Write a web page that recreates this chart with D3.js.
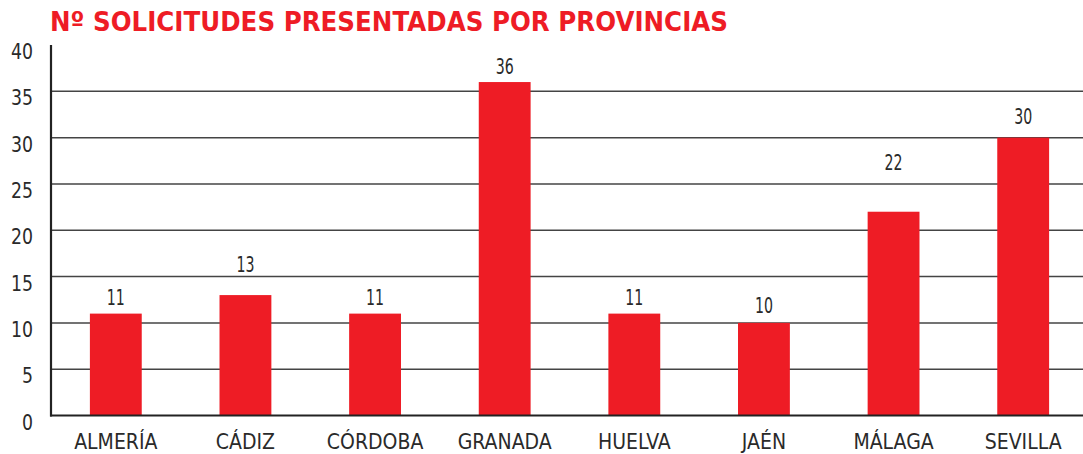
<!DOCTYPE html>
<html>
<head>
<meta charset="utf-8">
<script src="https://cdn.jsdelivr.net/npm/d3@7"></script>
<style>
  html, body { margin: 0; padding: 0; background: #fff; }
  svg { display: block; }
  .title { font-family: 'DejaVu Sans', Verdana, sans-serif; font-weight: bold; fill: #ee1c25; }
  .tick-y { font-family: 'DejaVu Sans Condensed', 'DejaVu Sans', sans-serif; font-size: 22px; fill: #2a2a2a; }
  .cat { font-family: 'DejaVu Sans Condensed', 'DejaVu Sans', sans-serif; font-size: 21px; fill: #2a2a2a; }
  .val { font-family: 'DejaVu Sans Condensed', 'DejaVu Sans', sans-serif; font-size: 21px; fill: #2a2a2a; }
</style>
</head>
<body>
<script>
(function () {
  'use strict'

  var title = 'Nº SOLICITUDES PRESENTADAS POR PROVINCIAS'
  var provinces = ['ALMERÍA', 'CÁDIZ', 'CÓRDOBA', 'GRANADA', 'HUELVA', 'JAÉN', 'MÁLAGA', 'SEVILLA']
  var requests = [11, 13, 11, 36, 11, 10, 22, 30]
  var yTicks = [0, 5, 10, 15, 20, 25, 30, 35, 40]

  var dim = { w: 1083, h: 454 }
  var margin = { left: 51, top: 45, right: -5, bottom: 38.5 }

  // labels that sit higher than the usual gap above the bar
  var labelLift = { 'CÁDIZ': 15, 'MÁLAGA': 33, 'SEVILLA': 5, 'JAÉN': 1.5 }

  var data = provinces.map(function (p, i) { return { name: p, value: requests[i] } })

  var svg = d3.select('body').append('svg')
    .attr('width', dim.w)
    .attr('height', dim.h)

  var x = d3.scaleBand().domain(provinces)
    .range([margin.left, dim.w - margin.right])
    .paddingInner(0.6).paddingOuter(0.3)

  var y = d3.scaleLinear().domain([0, 40])
    .range([dim.h - margin.bottom, margin.top])

  svg.append('text')
    .attr('class', 'title')
    .attr('x', 50)
    .attr('y', 31)
    .attr('font-size', 26.5)
    .attr('textLength', 678)
    .attr('lengthAdjust', 'spacingAndGlyphs')
    .text(title)

  // grid
  svg.append('g').selectAll('line')
    .data(yTicks.filter(function (t) { return t > 0 && t < 40 }))
    .enter().append('line')
      .attr('x1', margin.left)
      .attr('x2', dim.w)
      .attr('y1', function (d) { return y(d) })
      .attr('y2', function (d) { return y(d) })
      .attr('stroke', '#444')
      .attr('stroke-width', 1.5)

  svg.append('g').selectAll('text')
    .data(yTicks)
    .enter().append('text')
      .attr('class', 'tick-y')
      .attr('x', 33)
      .attr('y', function (d) { return y(d) + 14 })
      .attr('text-anchor', 'end')
      .attr('textLength', function (d) { return String(d).length * 11 })
      .attr('lengthAdjust', 'spacingAndGlyphs')
      .text(function (d) { return d })

  svg.append('g').selectAll('rect')
    .data(data)
    .enter().append('rect')
      .attr('x', function (d) { return x(d.name) })
      .attr('width', x.bandwidth())
      .attr('y', function (d) { return y(d.value) })
      .attr('height', function (d) { return y(0) - y(d.value) })
      .attr('fill', '#ee1c25')

  svg.append('g').selectAll('text')
    .data(data)
    .enter().append('text')
      .attr('class', 'val')
      .attr('x', function (d) { return x(d.name) + x.bandwidth() / 2 })
      .attr('y', function (d) { return y(d.value) - 8.5 - (labelLift[d.name] || 0) })
      .attr('text-anchor', 'middle')
      .attr('textLength', function (d) { return String(d.value).length * 9 })
      .attr('lengthAdjust', 'spacingAndGlyphs')
      .text(function (d) { return d.value })

  // axes lines
  svg.append('line')
    .attr('x1', margin.left).attr('x2', margin.left)
    .attr('y1', y(40)).attr('y2', y(0) + 1)
    .attr('stroke', '#222').attr('stroke-width', 2.2)

  svg.append('line')
    .attr('x1', margin.left - 1).attr('x2', dim.w)
    .attr('y1', y(0)).attr('y2', y(0))
    .attr('stroke', '#222').attr('stroke-width', 2.2)

  svg.append('g').selectAll('text')
    .data(provinces)
    .enter().append('text')
      .attr('class', 'cat')
      .attr('x', function (d) { return x(d) + x.bandwidth() / 2 })
      .attr('y', 448.5)
      .attr('text-anchor', 'middle')
      .text(function (d) { return d })
}())
</script>
</body>
</html>
